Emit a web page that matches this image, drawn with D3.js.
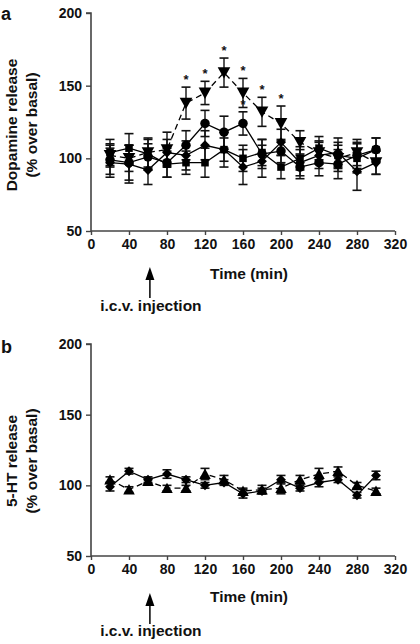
<!DOCTYPE html>
<html><head><meta charset="utf-8">
<script src="https://cdn.jsdelivr.net/npm/d3@7"></script>
<style>body{margin:0;background:#fff}svg{display:block}text{font-family:"Liberation Sans",Arial,sans-serif;font-weight:bold;fill:#111}</style>
</head><body>
<script>
const times = [20,40,60,80,100,120,140,160,180,200,220,240,260,280,300];
const xTicks = [0,40,80,120,160,200,240,280,320];
const yTicks = [50,100,150,200];

// Panel a: dopamine release
const daTriangle = [102,100,104,106,138,145,159,145,132,124,111,104,100,104,97];
const daTriangleErr = [8,9,10,12,11,8,10,10,10,12,8,8,9,9,8];
const daCircle = [99,97,101,97,109,124,118,124,103,105,94,97,96,102,106];
const daCircleErr = [10,12,9,10,10,9,11,8,10,8,8,9,10,9,8];
const daSquare = [104,107,103,96,97,97,106,100,104,94,100,107,102,100,106];
const daSquareErr = [9,10,10,9,8,10,8,9,9,8,8,8,9,10,8];
const daDiamond = [97,96,92,104,102,109,106,94,98,111,97,102,104,91,97];
const daDiamondErr = [10,13,10,9,10,10,12,12,11,9,9,9,10,13,8];
const daStarsTriangle = [100,120,140,160,180,200];
const daStarsCircle = [160];

// Panel b: 5-HT release
const htDiamond = [99,110,104,108,104,100,102,94,96,104,98,102,104,93,107];
const htDiamondErr = [3,2,2,3,2,2,2,3,2,3,2,3,2,2,3];
const htTriangle = [104,97,103,98,98,108,104,96,97,98,104,108,110,100,96];
const htTriangleErr = [2,2,2,2,2,4,3,2,3,4,3,4,3,2,2];

const W = 420, H = 644;
const svg = d3.select("body").append("svg").attr("width",W).attr("height",H);
const x = d3.scaleLinear().domain([0,320]).range([91,395]);

function marker(g, shape, cx, cy, s){
  let p;
  if(shape==="circle"){ g.append("circle").attr("cx",cx).attr("cy",cy).attr("r",s*0.5).attr("fill","#000"); return; }
  if(shape==="square"){ const h=s*0.42; p=`M${cx-h},${cy-h}H${cx+h}V${cy+h}H${cx-h}Z`; }
  if(shape==="diamond"){ const h=s*0.55; p=`M${cx},${cy-h}L${cx+h},${cy}L${cx},${cy+h}L${cx-h},${cy}Z`; }
  if(shape==="tridown"){ const h=s*0.55; p=`M${cx-h},${cy-h*0.85}H${cx+h}L${cx},${cy+h*0.95}Z`; }
  if(shape==="triup"){ const h=s*0.55; p=`M${cx-h},${cy+h*0.85}H${cx+h}L${cx},${cy-h*0.95}Z`; }
  g.append("path").attr("d",p).attr("fill","#000");
}

function panel(cfg){
  const y = d3.scaleLinear().domain([50,200]).range([cfg.bottom,cfg.top]);
  const g = svg.append("g");
  const ya = g.append("g").attr("transform",`translate(${x(0)},0)`)
    .call(d3.axisLeft(y).tickValues(yTicks).tickSize(5).tickPadding(4));
  const xa = g.append("g").attr("transform",`translate(0,${y(50)})`)
    .call(d3.axisBottom(x).tickValues(xTicks).tickSize(4).tickPadding(4));
  [ya,xa].forEach(a=>{
    a.select(".domain").attr("stroke","#444").attr("stroke-width",1.6);
    a.selectAll(".tick line").attr("stroke","#444").attr("stroke-width",1.4);
    a.selectAll(".tick text").style("font-size","14px").style("font-family","'Liberation Sans',Arial,sans-serif").style("font-weight","bold").attr("fill","#111");
  });
  ya.select(".domain").attr("d",`M-5,${y(200)}H0V${y(50)}`);
  xa.select(".domain").attr("d",`M${x(0)},0H${x(320)}`);

  const lineGen = d3.line().x((d,i)=>x(times[i])).y(d=>y(d));
  cfg.series.forEach(s=>{
    g.append("path").datum(s.values).attr("d",lineGen).attr("fill","none")
      .attr("stroke","#000").attr("stroke-width",1.3)
      .attr("stroke-dasharray",s.dashed?"6,4":null);
  });
  cfg.series.forEach(s=>{
    s.values.forEach((v,i)=>{
      const cx=x(times[i]), e=s.err[i];
      g.append("line").attr("x1",cx).attr("x2",cx).attr("y1",y(v+e)).attr("y2",y(v-e)).attr("stroke","#111").attr("stroke-width",1.4);
      [v+e,v-e].forEach(ev=>g.append("line").attr("x1",cx-4.5).attr("x2",cx+4.5).attr("y1",y(ev)).attr("y2",y(ev)).attr("stroke","#111").attr("stroke-width",1.6));
    });
  });
  cfg.series.forEach(s=>{
    s.values.forEach((v,i)=>marker(g,s.shape,x(times[i]),y(v),s.size));
  });
  (cfg.stars||[]).forEach(st=>{
    st.at.forEach(t=>{
      const i=times.indexOf(t);
      g.append("text").attr("x",x(t)).attr("y",y(st.values[i]+st.err[i])-3).attr("text-anchor","middle").style("font-size","13px").text("*");
    });
  });
  g.append("text").attr("x",1).attr("y",cfg.letterY).style("font-size","18px").text(cfg.letter);
  g.append("text").attr("transform",`translate(17,${cfg.titleY}) rotate(-90)`).attr("text-anchor","middle").style("font-size","15.5px").text(cfg.title1);
  g.append("text").attr("transform",`translate(37,${cfg.titleY}) rotate(-90)`).attr("text-anchor","middle").style("font-size","15.5px").text("(% over basal)");
  g.append("text").attr("x",249).attr("y",cfg.xTitleY).attr("text-anchor","middle").style("font-size","15.5px").text("Time (min)");
  const ax = x(62);
  g.append("line").attr("x1",ax).attr("x2",ax).attr("y1",cfg.arrowTop+10).attr("y2",cfg.arrowTop+31).attr("stroke","#000").attr("stroke-width",1.5);
  g.append("path").attr("d",`M${ax},${cfg.arrowTop}L${ax+4.5},${cfg.arrowTop+13}L${ax-4.5},${cfg.arrowTop+13}Z`).attr("fill","#000");
  g.append("text").attr("x",ax+1).attr("y",cfg.injY).attr("text-anchor","middle").style("font-size","15.5px").text("i.c.v. injection");
}

panel({top:13,bottom:231,letter:"a",letterY:20,title1:"Dopamine release",titleY:125,xTitleY:279,arrowTop:267,injY:311,
  series:[
    {values:daSquare,err:daSquareErr,shape:"square",size:9,dashed:false},
    {values:daDiamond,err:daDiamondErr,shape:"diamond",size:9,dashed:false},
    {values:daCircle,err:daCircleErr,shape:"circle",size:9.5,dashed:false},
    {values:daTriangle,err:daTriangleErr,shape:"tridown",size:11.5,dashed:true}
  ],
  stars:[{at:daStarsTriangle,values:daTriangle,err:daTriangleErr},{at:daStarsCircle,values:daCircle,err:daCircleErr}]
});
panel({top:344,bottom:556,letter:"b",letterY:353,title1:"5-HT release",titleY:461,xTitleY:602,arrowTop:593,injY:636,
  series:[
    {values:htDiamond,err:htDiamondErr,shape:"diamond",size:9,dashed:false},
    {values:htTriangle,err:htTriangleErr,shape:"triup",size:10.5,dashed:true}
  ]
});
</script>
</body></html>
